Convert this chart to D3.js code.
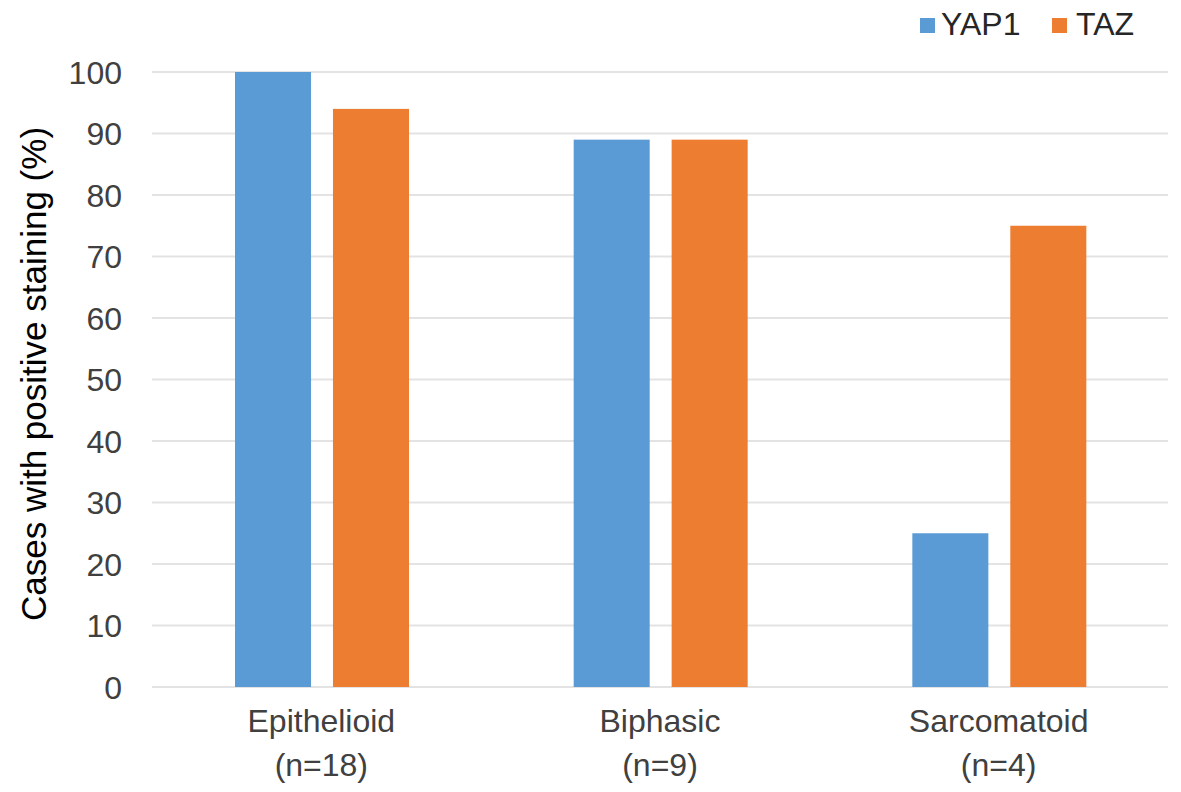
<!DOCTYPE html>
<html><head><meta charset="utf-8">
<script src="https://cdn.jsdelivr.net/npm/d3@7"></script>
<style>body{margin:0;background:#fff}svg{display:block;font-family:"Liberation Sans",Arial,sans-serif}</style>
</head><body>
<svg id="c" width="1181" height="792"></svg>
<script>
const categories = ["Epithelioid", "Biphasic", "Sarcomatoid"];
const categorySubLabels = ["(n=18)", "(n=9)", "(n=4)"];
const seriesNames = ["YAP1", "TAZ"];
const yap1 = [100, 89, 25];
const taz = [94, 89, 75];
const yTicks = [0,10,20,30,40,50,60,70,80,90,100];
const colors = ["#5b9bd5", "#ed7d31"];
const values = [yap1, taz];

const svg = d3.select("#c");
const pLeft = 152, pRight = 1168, pTop = 72, pBottom = 687;
const x0 = d3.scaleBand().domain(categories).range([pLeft, pRight]).padding(0);
const x1 = d3.scaleBand().domain(seriesNames).range([83, 257]).paddingInner(0.224).paddingOuter(0);
const y = d3.scaleLinear().domain([0, 100]).range([pBottom, pTop]);

// gridlines
svg.append("g").selectAll("line").data(yTicks).join("line")
  .attr("x1", pLeft).attr("x2", pRight)
  .attr("y1", d => y(d)).attr("y2", d => y(d))
  .attr("stroke", "#e3e3e3").attr("stroke-width", 2);

// y tick labels
svg.append("g").selectAll("text").data(yTicks).join("text")
  .attr("x", 122).attr("y", d => y(d)).attr("dy", "0.36em")
  .attr("text-anchor", "end").attr("font-size", 32).attr("fill", "#404040")
  .text(d => d);

// bars
categories.forEach((c, i) => {
  seriesNames.forEach((s, j) => {
    svg.append("rect")
      .attr("x", x0(c) + x1(s)).attr("width", x1.bandwidth())
      .attr("y", y(values[j][i])).attr("height", y(0) - y(values[j][i]))
      .attr("fill", colors[j]);
  });
});

// category labels
const cl = svg.append("g");
categories.forEach((c, i) => {
  const cx = x0(c) + x0.bandwidth() / 2;
  cl.append("text").attr("x", cx).attr("y", 732).attr("text-anchor", "middle")
    .attr("font-size", 32).attr("fill", "#404040").text(c);
  cl.append("text").attr("x", cx).attr("y", 776).attr("text-anchor", "middle")
    .attr("font-size", 32).attr("fill", "#404040").text(categorySubLabels[i]);
});

// y axis title
svg.append("text").attr("transform", "translate(46,374) rotate(-90)")
  .attr("text-anchor", "middle").attr("font-size", 35).attr("fill", "#000")
  .text("Cases with positive staining (%)");

// legend
const legX = [920, 1052];
const legTextX = [941, 1076];
seriesNames.forEach((s, j) => {
  svg.append("rect").attr("x", legX[j]).attr("y", 18).attr("width", 15).attr("height", 15).attr("fill", colors[j]);
  svg.append("text").attr("x", legTextX[j]).attr("y", 35)
    .attr("font-size", 32).attr("fill", "#262626").text(s);
});
</script>
</body></html>
